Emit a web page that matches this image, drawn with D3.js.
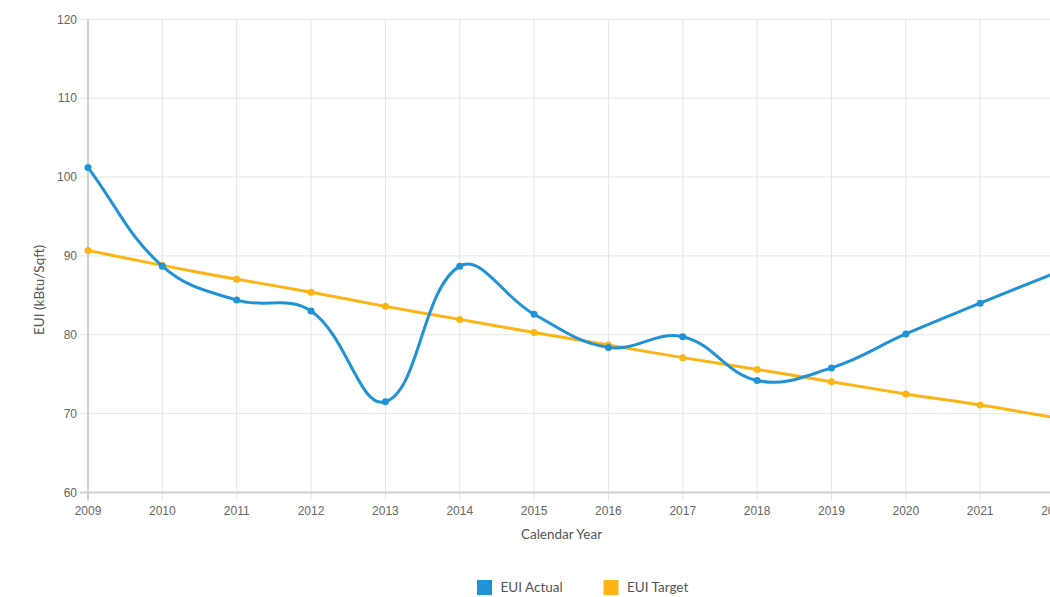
<!DOCTYPE html>
<html>
<head>
<meta charset="utf-8">
<script src="https://cdn.jsdelivr.net/npm/d3@7"></script>
<style>
  html, body { margin: 0; padding: 0; background: #fff; overflow: hidden; }
  svg { display: block; }
</style>
</head>
<body>
<svg id="chart" width="1050" height="597"></svg>
<script>
// ---- data ----
const years = [2009, 2010, 2011, 2012, 2013, 2014, 2015, 2016, 2017, 2018, 2019, 2020, 2021, 2022];
const euiActual = [101.2, 88.7, 84.4, 83.0, 71.5, 88.7, 82.6, 78.4, 79.75, 74.2, 75.8, 80.1, 84.0, 87.8];
const euiTarget = [90.7, 88.8, 87.05, 85.4, 83.6, 81.95, 80.3, 78.7, 77.1, 75.6, 74.05, 72.5, 71.1, 69.5];
const yTicks = [60, 70, 80, 90, 100, 110, 120];
const seriesNames = ["EUI Actual", "EUI Target"];
const seriesColors = ["#1f93d6", "#fdb516"];

// ---- layout ----
const plot = { left: 88, right: 1054.5, top: 19.3, bottom: 492.5 };
const svg = d3.select("#chart");

const x = d3.scalePoint().domain(years).range([plot.left, plot.right]);
const y = d3.scaleLinear().domain([60, 120]).range([plot.bottom, plot.top]);

// Chart.js-like spline (tension 0.4) as a d3 curve
function chartjsCurve(context) {
  return {
    areaStart() {}, areaEnd() {},
    lineStart() { this.p = []; },
    point(px, py) { this.p.push({ x: +px, y: +py }); },
    lineEnd() {
      const p = this.p, t = 0.4, n = p.length;
      const cp = p.map((cur, i) => {
        const prev = i > 0 ? p[i - 1] : cur;
        const next = i < n - 1 ? p[i + 1] : cur;
        const d01 = Math.hypot(cur.x - prev.x, cur.y - prev.y);
        const d12 = Math.hypot(next.x - cur.x, next.y - cur.y);
        let s01 = d01 / (d01 + d12), s12 = d12 / (d01 + d12);
        if (isNaN(s01)) s01 = 0;
        if (isNaN(s12)) s12 = 0;
        const fa = t * s01, fb = t * s12;
        return {
          px: cur.x - fa * (next.x - prev.x), py: cur.y - fa * (next.y - prev.y),
          nx: cur.x + fb * (next.x - prev.x), ny: cur.y + fb * (next.y - prev.y)
        };
      });
      context.moveTo(p[0].x, p[0].y);
      for (let i = 1; i < n; i++) {
        context.bezierCurveTo(cp[i - 1].nx, cp[i - 1].ny, cp[i].px, cp[i].py, p[i].x, p[i].y);
      }
    }
  };
}

// ---- grid ----
const gridColor = "#e5e5e5";
const axisColor = "#cfcfcf";
const tickLen = 8;

// horizontal gridlines (with tick marks extending left)
svg.append("g").selectAll("line").data(yTicks.filter(d => d !== 60)).join("line")
  .attr("x1", plot.left - tickLen).attr("x2", plot.right)
  .attr("y1", d => y(d)).attr("y2", d => y(d))
  .attr("stroke", gridColor).attr("stroke-width", 1);

// vertical gridlines (with tick marks extending down)
svg.append("g").selectAll("line").data(years.slice(1)).join("line")
  .attr("x1", d => x(d)).attr("x2", d => x(d))
  .attr("y1", plot.top).attr("y2", plot.bottom + tickLen)
  .attr("stroke", gridColor).attr("stroke-width", 1);

// axis lines
svg.append("line")
  .attr("x1", plot.left).attr("x2", plot.left)
  .attr("y1", plot.top).attr("y2", plot.bottom + tickLen)
  .attr("stroke", axisColor).attr("stroke-width", 2);
svg.append("line")
  .attr("x1", plot.left - tickLen).attr("x2", plot.right)
  .attr("y1", y(60)).attr("y2", y(60))
  .attr("stroke", axisColor).attr("stroke-width", 2);

// ---- tick labels ----
const tickFont = "'Liberation Sans', Arial, sans-serif";
svg.append("g").selectAll("text").data(yTicks).join("text")
  .attr("x", plot.left - 11).attr("y", d => y(d))
  .attr("dy", "0.35em").attr("text-anchor", "end")
  .attr("font-family", tickFont).attr("font-size", 12).attr("fill", "#666")
  .text(d => d);

svg.append("g").selectAll("text").data(years).join("text")
  .attr("x", d => x(d)).attr("y", plot.bottom + 22)
  .attr("text-anchor", "middle")
  .attr("font-family", tickFont).attr("font-size", 12).attr("fill", "#666")
  .text(d => d);

// ---- axis titles ----
const titleFont = "Lato, 'Open Sans', sans-serif";
svg.append("text")
  .attr("x", 561.5).attr("y", 539)
  .attr("text-anchor", "middle")
  .attr("font-family", titleFont).attr("font-size", 13.5).attr("fill", "#555")
  .text("Calendar Year");

svg.append("text")
  .attr("transform", "translate(44,290) rotate(-90)")
  .attr("text-anchor", "middle")
  .attr("font-family", titleFont).attr("font-size", 13.5).attr("fill", "#555")
  .text("EUI (kBtu/Sqft)");

// ---- series ----
const series = [
  { name: seriesNames[0], values: euiActual, color: seriesColors[0] },
  { name: seriesNames[1], values: euiTarget, color: seriesColors[1] }
];

const line = d3.line()
  .x((d, i) => x(years[i]))
  .y(d => y(d))
  .curve(chartjsCurve);

// draw in reverse so first dataset is on top
series.slice().reverse().forEach(s => {
  const g = svg.append("g");
  g.append("path")
    .attr("d", line(s.values))
    .attr("fill", "none")
    .attr("stroke", s.color)
    .attr("stroke-width", 3)
    .attr("stroke-linejoin", "round");
  g.selectAll("circle").data(s.values).join("circle")
    .attr("cx", (d, i) => x(years[i]))
    .attr("cy", d => y(d))
    .attr("r", 3.5)
    .attr("fill", s.color);
});

// ---- legend ----
const legendItems = [
  { name: seriesNames[0], color: seriesColors[0], x: 477 },
  { name: seriesNames[1], color: seriesColors[1], x: 603.5 }
];
const lg = svg.append("g");
legendItems.forEach(it => {
  lg.append("rect")
    .attr("x", it.x).attr("y", 580).attr("width", 15).attr("height", 15)
    .attr("fill", it.color);
  lg.append("text")
    .attr("x", it.x + 23.5).attr("y", 587.5).attr("dy", "0.35em")
    .attr("font-family", titleFont).attr("font-size", 13.5).attr("fill", "#555")
    .text(it.name);
});
</script>
</body>
</html>
